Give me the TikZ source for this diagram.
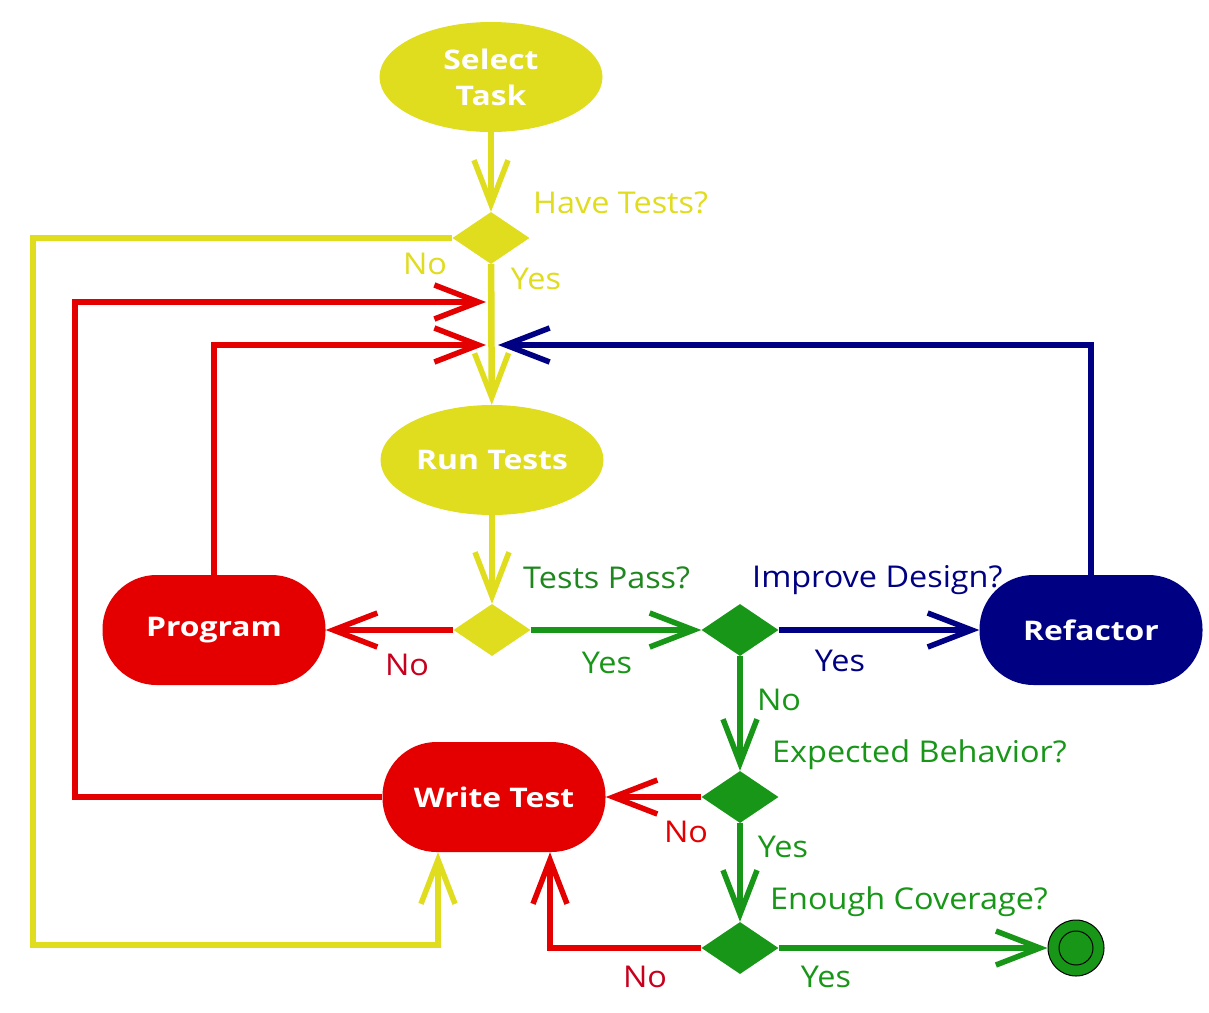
\documentclass[tikz,border=0pt]{standalone}
\usepackage{fontspec}
\setmainfont{Open Sans}
\newfontfamily\lblfont[FakeStretch=1.08]{Open Sans}
\newfontfamily\nodefont[FakeStretch=1.18]{Open Sans Bold}
\usetikzlibrary{arrows.meta,shapes.geometric,calc}
\definecolor{cyel}{RGB}{224,220,30}
\definecolor{cred}{RGB}{228,0,0}
\definecolor{cnavy}{RGB}{0,0,130}
\definecolor{cgreen}{RGB}{24,150,24}
\definecolor{tgreen}{RGB}{30,135,30}
\definecolor{tred}{RGB}{200,0,30}
\begin{document}
\begin{tikzpicture}[x=1pt,y=-1pt,
  conn/.style={line width=6.5pt,-{Straight Barb[length=44pt,width=34pt,line width=5.5pt]}},
  ovalbox/.style={ellipse,minimum width=223pt,minimum height=110pt,inner sep=0pt,text=white,font=\fontsize{27}{36}\nodefont,align=center},
  pillbox/.style={rectangle,rounded corners=54pt,minimum width=223pt,minimum height=110pt,inner sep=0pt,text=white,font=\fontsize{27}{30}\nodefont},
  decbox/.style={diamond,minimum width=77pt,minimum height=52pt,inner sep=0pt},
  lbl/.style={font=\fontsize{30}{32}\lblfont,inner sep=0pt},
]
\path[use as bounding box,fill=white] (0,0) rectangle (1209,1012);
% nodes
\node[ovalbox,fill=cyel] (sel) at (491,77) {Select\\Task};
\node[decbox,fill=cyel] (d1) at (491,238) {};
\node[ovalbox,fill=cyel] (run) at (492,460) {Run Tests};
\node[decbox,fill=cyel] (d2) at (492,630) {};
\node[pillbox,fill=cred] (prog) at (214,630) {Program};
\node[decbox,fill=cgreen] (d3) at (740,630) {};
\node[pillbox,fill=cnavy] (ref) at (1091,630) {Refactor};
\node[decbox,fill=cgreen] (d4) at (740,797) {};
\node[pillbox,fill=cred] (wt) at (494,797) {Write Test};
\node[decbox,fill=cgreen] (d5) at (740,948) {};
\node[circle,fill=cgreen,draw=black,line width=1pt,minimum size=56pt,inner sep=0pt] (fin) at (1076,948) {};
\node[circle,draw=black,line width=1pt,minimum size=34pt,inner sep=0pt] (fininner) at (fin.center) {};
% coordinates
\coordinate (ya) at (33,238);
\coordinate (yb) at (33,945);
\coordinate (ra) at (75,302);
\coordinate (rb) at (486,302);
\coordinate (rc) at (486,345);
\coordinate (bc) at (498,345);
% connectors
\draw[conn,cyel] (sel) -- (d1);
\draw[conn,cyel] (d1) -- (run);
\draw[conn,cyel] (d1.west) -- (ya) -- (yb) -| ([xshift=-56pt]wt.south);
\draw[conn,cred] (wt.west) -| (ra) -- (rb);
\draw[conn,cred] (prog.north) |- (rc);
\draw[conn,cnavy] (ref.north) |- (bc);
\draw[conn,cyel] (run) -- (d2);
\draw[conn,cred] (d2.west) -- (prog.east);
\draw[conn,cgreen] (d2.east) -- (d3.west);
\draw[conn,cnavy] (d3.east) -- (ref.west);
\draw[conn,cgreen] (d3) -- (d4);
\draw[conn,cred] (d4.west) -- (wt.east);
\draw[conn,cgreen] (d4) -- (d5);
\draw[conn,cred] (d5.west) -| ([xshift=56pt]wt.south);
\draw[conn,cgreen] (d5.east) -- (fin.west);
% labels
\node[lbl,text=cyel,anchor=west] (l1) at (533,203) {Have Tests?};
\node[lbl,text=cyel] (l2) at (425,264) {No};
\node[lbl,text=cyel] (l3) at (536,279) {Yes};
\node[lbl,text=tgreen,anchor=west] (l4) at (523,578) {Tests Pass?};
\node[lbl,text=tred] (l5) at (407,665) {No};
\node[lbl,text=cgreen] (l6) at (607,663) {Yes};
\node[lbl,text=cnavy,anchor=west] (l7) at (752,580) {Improve Design?};
\node[lbl,text=cnavy] (l8) at (840,661) {Yes};
\node[lbl,text=cgreen] (l9) at (779,700) {No};
\node[lbl,text=cgreen,anchor=west] (l10) at (772,755) {Expected Behavior?};
\node[lbl,text=cred] (l11) at (686,832) {No};
\node[lbl,text=cgreen] (l12) at (783,847) {Yes};
\node[lbl,text=cgreen,anchor=west] (l13) at (770,902) {Enough Coverage?};
\node[lbl,text=tred] (l14) at (645,977) {No};
\node[lbl,text=cgreen] (l15) at (826,977) {Yes};
\end{tikzpicture}
\end{document}
